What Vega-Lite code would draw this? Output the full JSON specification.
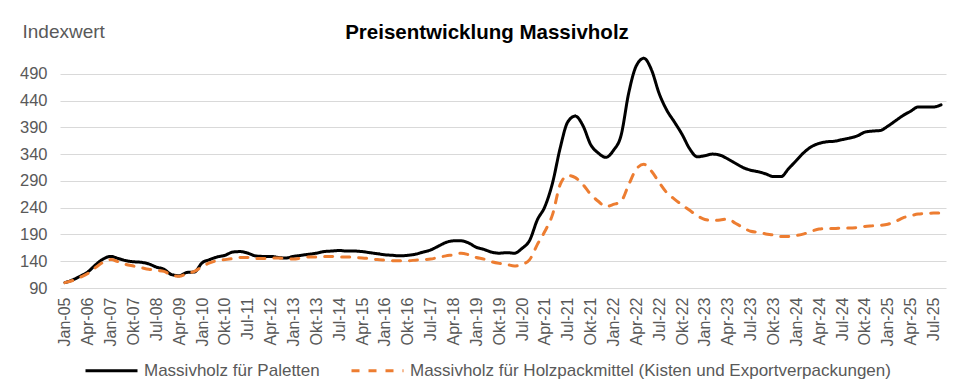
{
  "$schema": "https://vega.github.io/schema/vega-lite/v6.json",
  "width": 886,
  "height": 241,
  "autosize": {"type": "none"},
  "padding": {"left": 60, "top": 47, "right": 25, "bottom": 102},
  "background": "white",
  "title": {"text": "Preisentwicklung Massivholz", "fontSize": 20.5, "font": "Liberation Sans", "fontWeight": "bold", "color": "#000000", "anchor": "middle", "dx": -16, "offset": -21},
  "data": {"values": [
    {"m": "Jan-05", "p": 100, "h": 100},
    {"m": "Jun-05", "p": 105, "h": 104},
    {"m": "Nov-05", "p": 112, "h": 110},
    {"m": "Apr-06", "p": 120, "h": 117},
    {"m": "Jul-06", "p": 133, "h": 128},
    {"m": "Okt-06", "p": 144, "h": 138},
    {"m": "Jan-07", "p": 149, "h": 143},
    {"m": "Apr-07", "p": 145, "h": 139},
    {"m": "Jul-07", "p": 141, "h": 134},
    {"m": "Okt-07", "p": 139, "h": 131},
    {"m": "Jan-08", "p": 138, "h": 128},
    {"m": "Apr-08", "p": 135, "h": 125},
    {"m": "Jul-08", "p": 129, "h": 123},
    {"m": "Okt-08", "p": 125, "h": 121},
    {"m": "Jan-09", "p": 115, "h": 114},
    {"m": "Apr-09", "p": 113, "h": 112},
    {"m": "Jul-09", "p": 119, "h": 117},
    {"m": "Okt-09", "p": 120, "h": 121},
    {"m": "Jan-10", "p": 137, "h": 130},
    {"m": "Apr-10", "p": 143, "h": 137},
    {"m": "Jul-10", "p": 148, "h": 141},
    {"m": "Okt-10", "p": 151, "h": 143},
    {"m": "Jan-11", "p": 157, "h": 145},
    {"m": "Apr-11", "p": 158, "h": 147},
    {"m": "Jul-11", "p": 155, "h": 147},
    {"m": "Okt-11", "p": 150, "h": 145},
    {"m": "Jan-12", "p": 149, "h": 145},
    {"m": "Apr-12", "p": 149, "h": 146},
    {"m": "Jul-12", "p": 147, "h": 146},
    {"m": "Okt-12", "p": 146, "h": 145},
    {"m": "Jan-13", "p": 149, "h": 144},
    {"m": "Apr-13", "p": 151, "h": 146},
    {"m": "Jul-13", "p": 153, "h": 148},
    {"m": "Okt-13", "p": 155, "h": 148},
    {"m": "Jan-14", "p": 158, "h": 149},
    {"m": "Apr-14", "p": 159, "h": 149},
    {"m": "Jul-14", "p": 160, "h": 148},
    {"m": "Okt-14", "p": 159, "h": 148},
    {"m": "Jan-15", "p": 159, "h": 147},
    {"m": "Apr-15", "p": 158, "h": 146},
    {"m": "Jul-15", "p": 156, "h": 145},
    {"m": "Okt-15", "p": 154, "h": 143},
    {"m": "Jan-16", "p": 152, "h": 142},
    {"m": "Apr-16", "p": 151, "h": 141},
    {"m": "Jul-16", "p": 150, "h": 141},
    {"m": "Okt-16", "p": 151, "h": 141},
    {"m": "Jan-17", "p": 153, "h": 142},
    {"m": "Apr-17", "p": 157, "h": 143},
    {"m": "Jul-17", "p": 161, "h": 144},
    {"m": "Okt-17", "p": 168, "h": 147},
    {"m": "Jan-18", "p": 175, "h": 150},
    {"m": "Apr-18", "p": 178, "h": 152},
    {"m": "Jul-18", "p": 178, "h": 155},
    {"m": "Okt-18", "p": 174, "h": 152},
    {"m": "Jan-19", "p": 166, "h": 147},
    {"m": "Apr-19", "p": 162, "h": 144},
    {"m": "Jul-19", "p": 157, "h": 139},
    {"m": "Okt-19", "p": 155, "h": 136},
    {"m": "Jan-20", "p": 156, "h": 134},
    {"m": "Apr-20", "p": 155, "h": 131},
    {"m": "Jul-20", "p": 164, "h": 134},
    {"m": "Okt-20", "p": 179, "h": 143},
    {"m": "Jan-21", "p": 217, "h": 171},
    {"m": "Apr-21", "p": 242, "h": 196},
    {"m": "Mai-21", "p": 286, "h": 227},
    {"m": "Jun-21", "p": 351, "h": 283},
    {"m": "Jul-21", "p": 400, "h": 300},
    {"m": "Aug-21", "p": 411, "h": 296},
    {"m": "Sep-21", "p": 393, "h": 283},
    {"m": "Okt-21", "p": 358, "h": 265},
    {"m": "Nov-21", "p": 342, "h": 252},
    {"m": "Dez-21", "p": 334, "h": 242},
    {"m": "Jan-22", "p": 347, "h": 246},
    {"m": "Feb-22", "p": 375, "h": 252},
    {"m": "Mär-22", "p": 454, "h": 283},
    {"m": "Apr-22", "p": 505, "h": 312},
    {"m": "Mai-22", "p": 519, "h": 321},
    {"m": "Jun-22", "p": 497, "h": 308},
    {"m": "Jul-22", "p": 453, "h": 287},
    {"m": "Aug-22", "p": 422, "h": 268},
    {"m": "Sep-22", "p": 400, "h": 256},
    {"m": "Okt-22", "p": 377, "h": 245},
    {"m": "Nov-22", "p": 350, "h": 235},
    {"m": "Dez-22", "p": 335, "h": 225},
    {"m": "Jan-23", "p": 337, "h": 218},
    {"m": "Feb-23", "p": 340, "h": 216},
    {"m": "Mär-23", "p": 338, "h": 217},
    {"m": "Apr-23", "p": 331, "h": 219},
    {"m": "Mai-23", "p": 323, "h": 211},
    {"m": "Jun-23", "p": 315, "h": 203},
    {"m": "Jul-23", "p": 310, "h": 196},
    {"m": "Aug-23", "p": 307, "h": 194},
    {"m": "Sep-23", "p": 303, "h": 191},
    {"m": "Okt-23", "p": 298, "h": 189},
    {"m": "Nov-23", "p": 298, "h": 186},
    {"m": "Dez-23", "p": 313, "h": 186},
    {"m": "Jan-24", "p": 328, "h": 188},
    {"m": "Feb-24", "p": 343, "h": 191},
    {"m": "Mär-24", "p": 354, "h": 196},
    {"m": "Apr-24", "p": 360, "h": 200},
    {"m": "Mai-24", "p": 363, "h": 201},
    {"m": "Jun-24", "p": 364, "h": 201},
    {"m": "Jul-24", "p": 367, "h": 202},
    {"m": "Aug-24", "p": 370, "h": 202},
    {"m": "Sep-24", "p": 374, "h": 203},
    {"m": "Okt-24", "p": 381, "h": 205},
    {"m": "Nov-24", "p": 383, "h": 206},
    {"m": "Dez-24", "p": 384, "h": 207},
    {"m": "Jan-25", "p": 392, "h": 209},
    {"m": "Feb-25", "p": 402, "h": 214},
    {"m": "Mär-25", "p": 412, "h": 221},
    {"m": "Apr-25", "p": 420, "h": 225},
    {"m": "Mai-25", "p": 428, "h": 228},
    {"m": "Jun-25", "p": 428, "h": 229},
    {"m": "Jul-25", "p": 428, "h": 230},
    {"m": "Aug-25", "p": 432, "h": 230}
  ]},
  "transform": [{"fold": ["p", "h"], "as": ["s", "v"]}],
  "mark": {"type": "line", "interpolate": "monotone", "strokeWidth": 3, "strokeCap": "round"},
  "encoding": {
    "x": {
      "field": "m", "type": "ordinal", "sort": null,
      "scale": {"type": "point", "padding": 0.65},
      "axis": {
        "values": ["Jan-05", "Apr-06", "Jan-07", "Okt-07", "Jul-08", "Apr-09", "Jan-10", "Okt-10", "Jul-11", "Apr-12", "Jan-13", "Okt-13", "Jul-14", "Apr-15", "Jan-16", "Okt-16", "Jul-17", "Apr-18", "Jan-19", "Okt-19", "Jul-20", "Apr-21", "Jul-21", "Okt-21", "Jan-22", "Apr-22", "Jul-22", "Okt-22", "Jan-23", "Apr-23", "Jul-23", "Okt-23", "Jan-24", "Apr-24", "Jul-24", "Okt-24", "Jan-25", "Apr-25", "Jul-25"],
        "labelAngle": -90, "labelAlign": "right", "labelBaseline": "middle",
        "labelPadding": 9, "ticks": false, "domain": false, "grid": false, "title": null,
        "labelFontSize": 16, "labelColor": "#595959", "labelFont": "Liberation Sans"
      }
    },
    "y": {
      "field": "v", "type": "quantitative",
      "scale": {"domain": [90, 540], "nice": false, "zero": false},
      "axis": {
        "values": [90, 140, 190, 240, 290, 340, 390, 440, 490],
        "title": "Indexwert", "titleAngle": 0, "titleAlign": "left", "titleBaseline": "middle",
        "titleX": -38, "titleY": -16, "titleFontSize": 19, "titleFontWeight": "normal",
        "titleColor": "#595959", "titleFont": "Liberation Sans",
        "labelFontSize": 16.5, "labelColor": "#595959", "labelFont": "Liberation Sans", "labelPadding": 13,
        "ticks": false, "domain": false, "gridColor": "#d9d9d9", "gridWidth": 1
      }
    },
    "color": {
      "field": "s", "type": "nominal",
      "scale": {"domain": ["p", "h"], "range": ["#000000", "#ED7D31"]},
      "legend": {
        "title": null, "orient": "none", "legendX": 24, "legendY": 296, "direction": "horizontal",
        "symbolType": "stroke", "symbolSize": 2704, "symbolStrokeWidth": 3,
        "labelFontSize": 17, "labelColor": "#595959", "labelFont": "Liberation Sans", "labelOffset": 5,
        "columnPadding": 25, "padding": 0, "labelLimit": 0,
        "labelExpr": "datum.label == 'p' ? 'Massivholz für Paletten' : 'Massivholz für Holzpackmittel (Kisten und Exportverpackungen)'"
      }
    },
    "strokeDash": {
      "field": "s", "type": "nominal",
      "scale": {"domain": ["p", "h"], "range": [[1, 0], [8, 9]]},
      "legend": {
        "title": null, "orient": "none", "legendX": 24, "legendY": 296, "direction": "horizontal",
        "symbolType": "stroke", "symbolSize": 2704, "symbolStrokeWidth": 3,
        "labelFontSize": 17, "labelColor": "#595959", "labelFont": "Liberation Sans", "labelOffset": 5,
        "columnPadding": 25, "padding": 0, "labelLimit": 0,
        "labelExpr": "datum.label == 'p' ? 'Massivholz für Paletten' : 'Massivholz für Holzpackmittel (Kisten und Exportverpackungen)'"
      }
    }
  },
  "config": {"view": {"stroke": null}, "font": "Liberation Sans"}
}
